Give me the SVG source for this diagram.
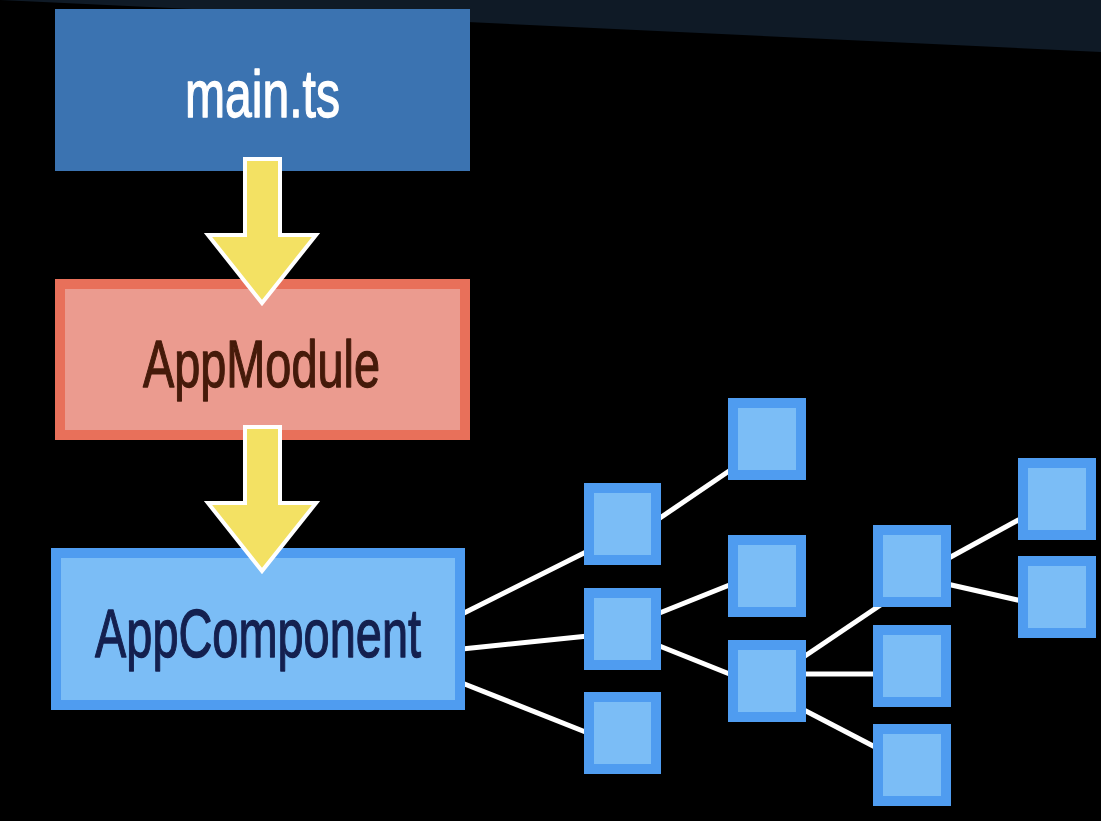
<svg xmlns="http://www.w3.org/2000/svg" width="1101" height="821" viewBox="0 0 1101 821">
<style>
.lbl{font-family:"Liberation Sans",Arial,sans-serif;text-anchor:start;stroke-width:1.3;stroke-linejoin:round}
.arrow{fill:#f3e163;stroke:#ffffff;stroke-width:4;stroke-linejoin:miter}
.edge{stroke:#ffffff;stroke-width:5;fill:none}
.sq{fill:#7bbdf6;stroke:#4f9cf0;stroke-width:10}
</style>
<rect x="0" y="0" width="1101" height="821" fill="#000000"/>
<polygon points="0,0 1101,0 1101,52" fill="#0f1a26"/>
<g id="connectors">
<line class="edge" x1="462" y1="614" x2="588" y2="551"/>
<line class="edge" x1="462" y1="649" x2="588" y2="636"/>
<line class="edge" x1="462" y1="683" x2="588" y2="733"/>
<line class="edge" x1="657" y1="520" x2="732" y2="469"/>
<line class="edge" x1="657" y1="614" x2="732" y2="584"/>
<line class="edge" x1="657" y1="645" x2="732" y2="675"/>
<line class="edge" x1="802" y1="658" x2="882" y2="604"/>
<line class="edge" x1="802" y1="674" x2="877" y2="674"/>
<line class="edge" x1="802" y1="709" x2="877" y2="748"/>
<line class="edge" x1="947" y1="559" x2="1022" y2="518"/>
<line class="edge" x1="947" y1="584" x2="1022" y2="601"/>
</g>
<g id="main-ts">
<rect x="55" y="9" width="415" height="162" fill="#3b73b1"/>
<text class="lbl" x="185" y="117" font-size="66" fill="#ffffff" stroke="#ffffff" textLength="155" lengthAdjust="spacingAndGlyphs">main.ts</text>
</g>
<g id="app-module">
<rect x="60" y="284" width="405" height="151" fill="#eb9b8f" stroke="#e8705a" stroke-width="10"/>
<text class="lbl" x="143" y="387" font-size="66" fill="#451a0a" stroke="#451a0a" textLength="237" lengthAdjust="spacingAndGlyphs">AppModule</text>
</g>
<g id="app-component">
<rect x="56" y="553" width="404" height="152" fill="#7bbdf6" stroke="#4f9cf0" stroke-width="10"/>
<text class="lbl" x="95" y="657" font-size="68" fill="#14204f" stroke="#14204f" textLength="326" lengthAdjust="spacingAndGlyphs">AppComponent</text>
</g>
<g id="arrow-1">
<polygon class="arrow" points="245,159 280,159 280,235 316,235 262,303 208,235 245,235"/>
</g>
<g id="arrow-2">
<polygon class="arrow" points="245,427 280,427 280,503 316,503 262,571 208,503 245,503"/>
</g>
<g id="b1"><rect class="sq" x="589" y="488" width="67" height="72"/></g>
<g id="b2"><rect class="sq" x="589" y="593" width="67" height="72"/></g>
<g id="b3"><rect class="sq" x="589" y="697" width="67" height="72"/></g>
<g id="c0"><rect class="sq" x="733" y="403" width="68" height="72"/></g>
<g id="c1"><rect class="sq" x="733" y="540" width="68" height="72"/></g>
<g id="c2"><rect class="sq" x="733" y="645" width="68" height="72"/></g>
<g id="d1"><rect class="sq" x="878" y="530" width="68" height="72"/></g>
<g id="d2"><rect class="sq" x="878" y="630" width="68" height="72"/></g>
<g id="d3"><rect class="sq" x="878" y="729" width="68" height="72"/></g>
<g id="e1"><rect class="sq" x="1023" y="463" width="68" height="72"/></g>
<g id="e2"><rect class="sq" x="1023" y="561" width="68" height="72"/></g>
</svg>
